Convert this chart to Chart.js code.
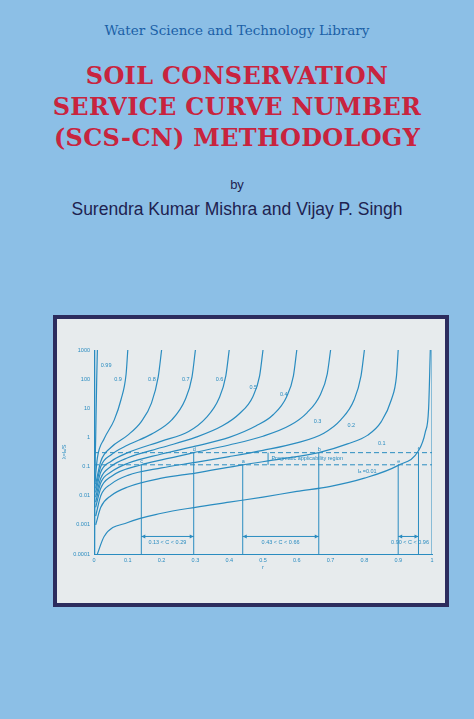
<!DOCTYPE html>
<html><head><meta charset="utf-8">
<script src="https://cdn.jsdelivr.net/npm/chart.js@4.4.1/dist/chart.umd.min.js"></script>
<style>
html,body{margin:0;padding:0;}
body{width:474px;height:719px;background:#8cbfe6;position:relative;overflow:hidden;font-family:"DejaVu Serif",serif;}
.t{position:absolute;left:0;width:474px;text-align:center;}
#series{top:22px;font-size:13.5px;color:#1b5fa6;}
.red{color:#c8243e;font-weight:bold;font-size:24px;letter-spacing:0.3px;}
#by{top:177px;font-family:"Liberation Sans",sans-serif;font-size:13px;color:#1e2250;}
#au{top:199px;font-family:"Liberation Sans",sans-serif;font-size:17.5px;color:#1e2250;}
#frame{position:absolute;left:53px;top:315px;width:388px;height:284px;border:4px solid #2c2c5e;background:#e7ebed;}
#c{position:absolute;left:0;top:0;}
</style></head><body>
<div class="t" id="series">Water Science and Technology Library</div>
<div class="t red" style="top:61px">SOIL CONSERVATION</div>
<div class="t red" style="top:92px">SERVICE CURVE NUMBER</div>
<div class="t red" style="top:123px">(SCS-CN) METHODOLOGY</div>
<div class="t" id="by">by</div>
<div class="t" id="au">Surendra Kumar Mishra and Vijay P. Singh</div>
<div id="frame"><canvas id="c" width="388" height="284"></canvas></div>
<script>
const xTicks=[0,0.1,0.2,0.3,0.4,0.5,0.6,0.7,0.8,0.9,1];
const yTicks=[0.0001,0.001,0.01,0.1,1,10,100,1000];
const curveLabels=['0.99','0.9','0.8','0.7','0.6','0.5','0.4','0.3','0.2','0.1','Ia=0.01'];
const c099=[[0.001,0.0001],[0.002,0.01],[0.005,1],[0.008,100],[0.01,1000]];
const c09=[[0.003,0.03],[0.01,0.2],[0.03,0.9],[0.06,4],[0.08,20],[0.095,150],[0.1,1000]];
const c08=[[0.005,0.025],[0.02,0.15],[0.05,0.45],[0.1,1.2],[0.14,3.5],[0.17,15],[0.19,120],[0.2,1000]];
const c07=[[0.005,0.018],[0.02,0.1],[0.05,0.25],[0.1,0.55],[0.17,1.3],[0.23,4],[0.27,20],[0.29,120],[0.3,1000]];
const c06=[[0.005,0.013],[0.02,0.065],[0.05,0.15],[0.1,0.3],[0.2,0.75],[0.28,1.6],[0.33,4.5],[0.37,22],[0.39,130],[0.4,1000]];
const c05=[[0.005,0.009],[0.02,0.04],[0.05,0.1],[0.1,0.2],[0.2,0.45],[0.3,1.0],[0.38,2.5],[0.43,6.5],[0.47,25],[0.49,130],[0.5,1000]];
const c04=[[0.005,0.006],[0.02,0.028],[0.05,0.065],[0.1,0.13],[0.2,0.27],[0.3,0.5],[0.4,1.0],[0.48,2.5],[0.53,6],[0.57,25],[0.59,130],[0.6,1000]];
const c03=[[0.005,0.004],[0.02,0.018],[0.05,0.045],[0.14,0.115],[0.2,0.17],[0.295,0.3],[0.4,0.55],[0.5,1.1],[0.58,2.6],[0.63,7],[0.67,30],[0.69,150],[0.7,1000]];
const c02=[[0.005,0.002],[0.02,0.01],[0.05,0.025],[0.1,0.05],[0.2,0.09],[0.3,0.14],[0.4,0.22],[0.5,0.36],[0.6,0.65],[0.68,1.4],[0.73,4],[0.77,20],[0.79,130],[0.8,1000]];
const c01=[[0.005,0.001],[0.02,0.004],[0.05,0.01],[0.1,0.02],[0.2,0.04],[0.3,0.06],[0.44,0.115],[0.55,0.18],[0.665,0.3],[0.75,0.6],[0.81,1.2],[0.85,3.5],[0.88,20],[0.895,130],[0.9,1000]];
const c001=[[0.01,0.0001],[0.03,0.0004],[0.1,0.0012],[0.2,0.0025],[0.3,0.004],[0.4,0.006],[0.5,0.009],[0.6,0.014],[0.7,0.021],[0.8,0.04],[0.9,0.11],[0.96,0.35],[0.98,1.5],[0.99,10],[0.995,1000]];
const vertX=[0.14,0.295,0.44,0.665,0.9,0.96];
const vertTop=[0.115,0.3,0.115,0.3,0.115,0.3];
const pointLetters=['c','d','a','b','e','f'];
const dashY=[0.115,0.3];
const rangeLabels=['0.13 < C < 0.29','0.43 < C < 0.66','0.90 < C < 0.96'];
const labelPos=[[0.02,300],[0.06,100],[0.16,100],[0.26,100],[0.36,100],[0.46,50],[0.55,30],[0.65,3.5],[0.75,2.5],[0.84,0.6]];
const curves=[c099,c09,c08,c07,c06,c05,c04,c03,c02,c01,c001];
const col='#2a8cc0';
const ds=curves.map(c=>({data:c.map(p=>({x:p[0],y:p[1]})),showLine:true,borderColor:col,borderWidth:1.2,pointRadius:0,cubicInterpolationMode:'monotone'}));
vertX.forEach((x,i)=>ds.push({data:[{x:x,y:0.0001},{x:x,y:vertTop[i]}],showLine:true,borderColor:col,borderWidth:1,pointRadius:0}));
dashY.forEach(y=>ds.push({data:[{x:0,y:y},{x:1,y:y}],showLine:true,borderColor:col,borderWidth:1,borderDash:[5,3],pointRadius:0}));
ds.push({data:[{x:0.002,y:0.0001},{x:0.002,y:1000}],showLine:true,borderColor:col,borderWidth:1.2,pointRadius:0});
ds.push({data:[{x:1,y:0.0001},{x:1,y:1000}],showLine:true,borderColor:col,borderWidth:1,pointRadius:0});
const ann={id:'ann',afterDatasetsDraw(ch){
 const g=ch.ctx,xs=ch.scales.x,ys=ch.scales.y;
 g.save();g.fillStyle=col;g.strokeStyle=col;g.font='5.5px "Liberation Sans",sans-serif';g.textBaseline='middle';
 curveLabels.forEach((l,i)=>{if(i<10)g.fillText(l,xs.getPixelForValue(labelPos[i][0]),ys.getPixelForValue(labelPos[i][1]));});
 g.fillText('Iₐ =0.01',xs.getPixelForValue(0.78),ys.getPixelForValue(0.07));
 pointLetters.forEach((l,i)=>g.fillText(l,xs.getPixelForValue(vertX[i])-1,ys.getPixelForValue(vertTop[i]*1.25)));
 g.fillText('Pragmatic applicability region',xs.getPixelForValue(0.525),ys.getPixelForValue(0.19));
 const arr=(x1,x2,y)=>{const p1=xs.getPixelForValue(x1),p2=xs.getPixelForValue(x2),py=ys.getPixelForValue(y);
  g.lineWidth=1;g.beginPath();g.moveTo(p1,py);g.lineTo(p2,py);g.stroke();
  [[p1,1],[p2,-1]].forEach(([p,d])=>{g.beginPath();g.moveTo(p,py);g.lineTo(p+4*d,py-2);g.lineTo(p+4*d,py+2);g.closePath();g.fill();});};
 arr(0.14,0.295,0.0004);arr(0.44,0.665,0.0004);arr(0.9,0.96,0.0004);
 g.textAlign='center';
 g.fillText(rangeLabels[0],xs.getPixelForValue(0.217),ys.getPixelForValue(0.00025));
 g.fillText(rangeLabels[1],xs.getPixelForValue(0.552),ys.getPixelForValue(0.00025));
 g.fillText(rangeLabels[2],xs.getPixelForValue(0.935),ys.getPixelForValue(0.00025));
 const va=xs.getPixelForValue(0.515),t1=ys.getPixelForValue(0.3),t2=ys.getPixelForValue(0.115);
 g.beginPath();g.moveTo(va,t1);g.lineTo(va,t2);g.stroke();
 g.restore();}};
new Chart(document.getElementById('c'),{type:'scatter',data:{datasets:ds},plugins:[ann],
options:{responsive:false,animation:false,layout:{padding:{left:4,right:13,top:31,bottom:32}},
plugins:{legend:{display:false},tooltip:{enabled:false}},
scales:{
x:{type:'linear',min:0,max:1,afterFit:s=>{s.height=17;},grid:{display:false,drawTicks:true,tickLength:2},border:{color:col},
 afterBuildTicks:s=>{s.ticks=xTicks.map(v=>({value:v}));},
 ticks:{color:col,font:{size:5.5},padding:1,maxRotation:0,callback:v=>String(v)},
 title:{display:true,text:'r',color:col,font:{size:5.5},padding:0}},
y:{type:'logarithmic',min:0.0001,max:1000,afterFit:s=>{s.width=33;},grid:{display:false,tickLength:2},border:{color:col},
 afterBuildTicks:s=>{s.ticks=yTicks.map(v=>({value:v}));},
 ticks:{color:col,font:{size:5.5},padding:2,callback:v=>String(v)},
 title:{display:true,text:'λ=Iₐ/S',color:col,font:{size:5.5},padding:0}}}}});
</script></body></html>
